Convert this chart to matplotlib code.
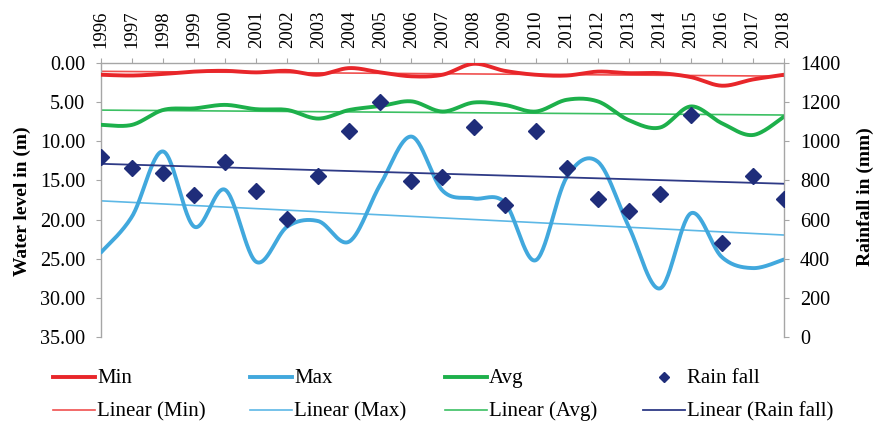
import numpy as np
import matplotlib
matplotlib.use("Agg")
import matplotlib.pyplot as plt
from matplotlib.lines import Line2D

years = list(range(1996, 2019))
min_level = [1.5, 1.6, 1.4, 1.1, 1.0, 1.2, 1.0, 1.5, 0.65, 1.2, 1.7, 1.5, 0.1, 1.0,
             1.5, 1.6, 1.1, 1.3, 1.3, 1.8, 2.9, 2.1, 1.5]
max_level = [24.2, 19.6, 11.3, 20.9, 16.2, 25.4, 20.9, 20.2, 22.8, 15.5, 9.4, 16.3,
             17.3, 17.8, 25.2, 14.6, 12.6, 20.9, 28.8, 19.2, 24.8, 26.2, 25.1]
avg_level = [7.9, 7.9, 6.0, 5.8, 5.35, 5.9, 6.0, 7.1, 6.0, 5.5, 4.9, 6.2, 5.05, 5.35,
             6.2, 4.7, 4.9, 7.3, 8.25, 5.55, 7.7, 9.2, 6.85]
rainfall = [920, 865, 840, 725, 896, 748, 603, 824, 1055, 1203, 799, 819, 1075, 674,
            1053, 865, 703, 645, 731, 1135, 478, 823, 703]
left_ticks = [0, 5, 10, 15, 20, 25, 30, 35]
right_ticks = [0, 200, 400, 600, 800, 1000, 1200, 1400]

C_MIN = "#E8262A"
C_MAX = "#41A8DD"
C_AVG = "#1DB04B"
C_RAIN = "#1F2D7A"
C_LMIN = "#F0504F"
C_LMAX = "#5DB8E6"
C_LAVG = "#3CC063"
C_LRAIN = "#2E3A86"
GRAY = "#A6A6A6"

plt.rcParams['font.family'] = ['Liberation Serif', 'DejaVu Serif']


def smooth(x, y, n=30):
    x = np.asarray(x, float)
    y = np.asarray(y, float)
    P = np.column_stack([x, y])
    out = []
    m = len(P)
    for i in range(m - 1):
        p0 = P[i - 1] if i > 0 else P[i]
        p1 = P[i]
        p2 = P[i + 1]
        p3 = P[i + 2] if i + 2 < m else P[i + 1]
        c1 = p1 + (p2 - p0) / 6.0
        c2 = p2 - (p3 - p1) / 6.0
        t = np.linspace(0, 1, n, endpoint=(i == m - 2))[:, None]
        seg = ((1 - t) ** 3) * p1 + 3 * ((1 - t) ** 2) * t * c1 + 3 * (1 - t) * t ** 2 * c2 + t ** 3 * p2
        out.append(seg)
    out = np.vstack(out)
    return out[:, 0], out[:, 1]


def trend(x, y):
    k, b = np.polyfit(x, y, 1)
    xs = np.array([x[0], x[-1]], float)
    return xs, k * xs + b


W, H = 875, 426
fig = plt.figure(figsize=(8.75, 4.26), dpi=100)
ax = fig.add_axes([101 / W, 1 - 337 / H, (784 - 101) / W, (337 - 63) / H])
ax2 = ax.twinx()

for data, col, lcol in [(min_level, C_MIN, C_LMIN), (max_level, C_MAX, C_LMAX), (avg_level, C_AVG, C_LAVG)]:
    sx, sy = smooth(years, data)
    ax.plot(sx, sy, color=col, lw=2.8, solid_capstyle='round', zorder=3)
    tx, ty = trend(years, data)
    ax.plot(tx, ty, color=lcol, lw=1.2, zorder=2)

ax2.plot(years, rainfall, linestyle='none', marker='D', markersize=8,
         color=C_RAIN, zorder=4)
tx, ty = trend(years, rainfall)
ax2.plot(tx, ty, color=C_LRAIN, lw=1.3, zorder=3)

ax.set_xlim(1996, 2018)
ax.set_ylim(35, 0)
ax2.set_ylim(0, 1400)
ax.set_yticks(left_ticks)
ax.set_yticklabels([f"{v:.2f}" for v in left_ticks])
ax2.set_yticks(right_ticks)
ax2.set_yticklabels([str(v) for v in right_ticks])

ax.set_xticks(years)
ax.xaxis.tick_top()
ax.set_xticklabels([str(y) for y in years], rotation=90)

for a in (ax, ax2):
    for s in a.spines.values():
        s.set_visible(False)
ax.spines['left'].set_visible(True)
ax.spines['top'].set_visible(True)
ax2.spines['right'].set_visible(True)
for s in (ax.spines['left'], ax.spines['top'], ax2.spines['right']):
    s.set_color(GRAY)
    s.set_linewidth(1.0)

ax.tick_params(axis='y', direction='out', length=3.5, color=GRAY, labelsize=14.5, pad=8)
ax.tick_params(axis='x', direction='out', length=3.5, color=GRAY, labelsize=13.5, pad=7,
               top=True, bottom=False, labeltop=True, labelbottom=False)
ax2.tick_params(axis='y', direction='out', length=3.5, color=GRAY, labelsize=14.5, pad=8)

fig.text(22 / W, 1 - 201 / H, "Water level in (m)", rotation=90, ha='center', va='center',
         fontsize=14, fontweight='bold')
fig.text(865 / W, 1 - 197 / H, "Rainfall in (mm)", rotation=90, ha='center', va='center',
         fontsize=14, fontweight='bold')

# legend: (x of handle start, row y, color, line width or marker, label)
entries = [
    (53, 377, C_MIN, 2.8, None, "Min"),
    (53, 410, C_LMIN, 1.2, None, "Linear (Min)"),
    (250, 377, C_MAX, 2.8, None, "Max"),
    (250, 410, C_LMAX, 1.2, None, "Linear (Max)"),
    (445, 377, C_AVG, 2.8, None, "Avg"),
    (445, 410, C_LAVG, 1.2, None, "Linear (Avg)"),
    (643, 377, C_RAIN, 0, 'D', "Rain fall"),
    (643, 410, C_LRAIN, 1.3, None, "Linear (Rain fall)"),
]
HL = 42
for xpix, ypix, col, lw, mk, label in entries:
    yf = 1 - ypix / H
    if mk is None:
        fig.add_artist(Line2D([xpix / W, (xpix + HL) / W], [yf, yf], color=col, lw=lw,
                              transform=fig.transFigure))
    else:
        fig.add_artist(Line2D([(xpix + HL / 2) / W], [yf], color=col, marker=mk,
                              markersize=5.5, linestyle='none', transform=fig.transFigure))
    fig.text((xpix + HL + 2) / W, 1 - (ypix + 6) / H, label, ha='left', va='baseline',
             fontsize=15)

fig.savefig("out.png", dpi=100)
